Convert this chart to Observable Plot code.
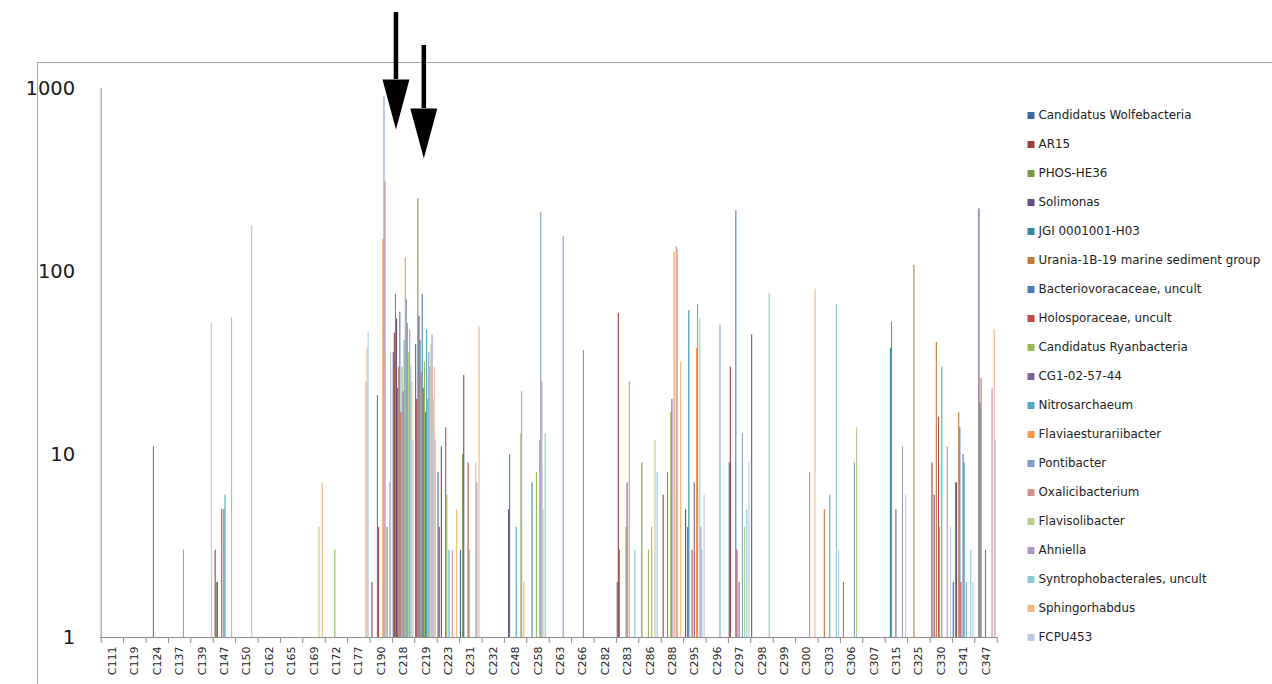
<!DOCTYPE html>
<html>
<head>
<meta charset="utf-8">
<script src="https://cdn.jsdelivr.net/npm/d3@7"></script>
<script src="https://cdn.jsdelivr.net/npm/@observablehq/plot@0.6"></script>
<style>
  body { margin: 0; background: #fff; }
  #wrap { position: relative; width: 1272px; height: 684px; overflow: hidden; font-family: "DejaVu Sans", sans-serif; }
  #border { position: absolute; left: 37px; top: 62px; width: 1260px; height: 640px; border-left: 1px solid #a6a6a6; border-top: 1px solid #a6a6a6; }
  #chart { position: absolute; left: 0; top: 0; }
  #legend { position: absolute; left: 1023px; top: 0; }
</style>
</head>
<body>
<div id="wrap"><div id="border"></div><div id="chart"></div><div id="legend"></div></div>
<script>
// ---- data ----
const categories = [
  "C111","C119","C124","C137","C139","C147","C150","C162","C165","C169",
  "C172","C177","C190","C218","C219","C223","C231","C232","C248","C258",
  "C263","C266","C282","C283","C286","C288","C295","C296","C297","C298",
  "C299","C300","C303","C306","C307","C315","C325","C330","C341","C347"
];
const seriesNames = [
  "Candidatus Wolfebacteria","AR15","PHOS-HE36","Solimonas","JGI 0001001-H03",
  "Urania-1B-19 marine sediment group","Bacteriovoracaceae, uncult","Holosporaceae, uncult",
  "Candidatus Ryanbacteria","CG1-02-57-44","Nitrosarchaeum","Flaviaesturariibacter",
  "Pontibacter","Oxalicibacterium","Flavisolibacter","Ahniella",
  "Syntrophobacterales, uncult","Sphingorhabdus","FCPU453"
];
const seriesColors = [
  "#3d6a9e","#9e3d3b","#7d9645","#634d80","#318ba6","#c27a3a",
  "#4a7ebb","#be4b48","#98b954","#7e62a1","#4bacc6","#f79646",
  "#7f9fca","#d68f8d","#b9cf8f","#a998c6","#8fcada","#f9b47f","#b7c8e3"
];
const yTicks = [1, 10, 100, 1000];

//                         C111..C169                      C172..C258                          C263..C298                      C299..C347
const wolfebacteria     = [0,0,0,0,0,0,0,0,0,0,           0,0,0,36,40,8,3,0,0,0,            0,0,0,2,0,0,0,0,9,45,           0,0,0,0,0,0,0,0,2,0];
const ar15              = [0,0,0,0,0,3,0,0,0,0,           0,0,2,46,20,4,0,0,0,0,            0,0,0,59,0,6,5,0,30,0,          0,0,0,0,0,0,0,9,0,0];
const phosHE36          = [0,0,0,0,0,2,0,0,0,0,           0,0,0,75,250,0,10,0,0,0,          0,0,0,3,9,0,0,0,0,0,            0,0,0,2,0,0,0,0,7,0];
const solimonas         = [0,0,0,0,0,2,0,0,0,0,           0,0,0,55,57,11,27,0,5,0,          0,0,0,0,0,0,4,0,0,0,            0,0,0,0,0,0,0,6,7,220];
const jgi               = [0,0,0,0,0,0,0,0,0,0,           0,0,0,23,42,0,0,0,10,7,           0,0,0,0,0,0,61,0,0,0,           0,0,0,0,0,38,0,0,0,19];
const urania            = [0,0,0,0,0,0,0,0,0,0,           0,0,0,30,28,0,0,0,0,0,            0,0,0,0,0,8,0,0,0,0,            0,0,5,0,0,53,108,41,17,26];
const bacteriovoracaceae= [0,0,11,0,0,0,0,0,0,0,          0,0,21,60,75,0,0,0,0,0,           0,0,0,0,0,0,0,0,215,0,          0,0,0,0,0,0,0,0,14,0];
const holosporaceae     = [0,0,0,0,0,5,0,0,0,0,           0,0,4,17,23,14,9,0,0,0,           0,0,0,0,0,0,3,0,3,0,            0,0,0,0,0,0,0,16,2,0];
const ryanbacteria      = [0,0,0,0,0,0,0,0,0,0,           3,0,0,30,32,6,3,0,0,8,            0,0,0,4,3,17,0,0,0,0,           0,0,0,0,0,0,0,4,0,0];
const cg1               = [0,0,0,0,0,5,0,0,0,0,           0,0,0,22,17,0,0,0,0,0,            0,0,0,7,0,20,7,0,2,0,           0,0,0,0,0,5,0,0,10,3];
const nitrosarchaeum    = [0,0,0,0,0,6,0,0,0,0,           0,0,0,42,48,3,0,0,4,0,            0,37,0,0,0,0,0,0,0,0,           0,0,6,0,0,0,0,30,9,0];
const flaviaesturariibacter=[0,0,0,0,0,0,0,0,0,0,         0,0,150,119,20,0,0,0,0,12,        0,0,0,25,4,128,38,0,0,0,        0,0,0,0,0,0,0,0,0,0];
const pontibacter       = [0,0,0,0,0,0,0,0,0,0,           0,0,900,70,36,0,0,0,0,210,        155,0,0,0,0,0,66,51,13,0,       0,8,0,9,0,0,0,0,2,0];
const oxalicibacterium  = [0,0,0,3,0,0,0,0,0,0,           0,0,310,52,30,3,0,0,0,25,         0,0,0,0,0,137,0,0,0,0,          0,0,0,0,0,0,0,0,0,0];
const flavisolibacter   = [0,0,0,0,0,0,178,0,0,4,         0,0,4,36,40,0,9,0,13,5,           0,0,0,0,12,132,55,0,4,0,        0,0,0,14,0,0,0,0,0,0];
const ahniella          = [0,0,0,0,0,0,0,0,0,0,           0,0,4,48,45,0,7,0,22,0,           0,0,0,0,0,0,4,0,0,0,            0,0,0,0,0,11,0,11,0,23];
const syntrophobacterales=[0,0,0,0,0,56,0,0,0,0,          0,25,0,30,20,0,0,0,0,13,          0,0,0,3,8,0,3,0,5,76,           0,0,66,0,0,0,0,0,3,0];
const sphingorhabdus    = [0,0,0,0,0,0,0,0,0,7,           0,38,7,25,30,5,50,0,2,0,          0,0,0,0,0,32,0,0,0,0,           0,80,0,0,0,0,0,0,0,48];
const fcpu453           = [0,0,0,0,52,0,0,0,0,0,          0,46,36,12,12,0,0,0,0,0,          0,0,0,0,0,0,6,0,9,0,            0,0,3,0,0,6,0,4,2,12];

const seriesValues = [
  wolfebacteria, ar15, phosHE36, solimonas, jgi, urania, bacteriovoracaceae, holosporaceae,
  ryanbacteria, cg1, nitrosarchaeum, flaviaesturariibacter, pontibacter, oxalicibacterium,
  flavisolibacter, ahniella, syntrophobacterales, sphingorhabdus, fcpu453
];

// annotation arrows (category, series they point at, top of shaft and base of head in data units)
const arrowCats = ["C218", "C219"];
const arrowSeries = ["PHOS-HE36", "Holosporaceae, uncult"];
const arrowTop = [2600, 1718];
const arrowBase = [1120, 777];

// ---- build ----
const table = [];
seriesValues.forEach((vals, s) => vals.forEach((v, c) => {
  if (v > 0) table.push({cat: categories[c], series: seriesNames[s], v});
}));
const arrows = arrowCats.map((c, i) => ({cat: c, series: arrowSeries[i], top: arrowTop[i], base: arrowBase[i]}));
const arrowHead = {draw(ctx) { ctx.moveTo(-13.5, 0); ctx.lineTo(13.5, 0); ctx.lineTo(0, 50); ctx.closePath(); }};
const firstCat = categories[0];

const W = 1010, H = 684, ML = 100.7, MR = W - 996.7;
const band = (W - ML - MR) / categories.length;
const axisGray = "#8c8c8c";

const chart = Plot.plot({
  width: W, height: H,
  marginLeft: ML, marginRight: MR, marginTop: 88, marginBottom: 47,
  style: {fontFamily: "DejaVu Sans, sans-serif", background: "transparent", overflow: "visible"},
  fx: {domain: categories, padding: 0, round: false, label: null},
  x: {type: "band", domain: seriesNames, paddingInner: 0, paddingOuter: 0.75, round: false, axis: null},
  y: {type: "log", domain: [1, 1000], label: null, axis: null},
  color: {domain: seriesNames, range: seriesColors},
  marks: [
    Plot.barY(table, {fx: "cat", x: "series", y1: 1, y2: "v", fill: "series", insetLeft: 0, insetRight: 0}),
    Plot.frame({anchor: "bottom", facetAnchor: "bottom", stroke: axisGray}),
    Plot.frame({anchor: "left", facetAnchor: "left", stroke: axisGray}),
    // y tick labels, placed in the first facet only
    Plot.text(yTicks, {fx: () => firstCat, y: d => d, text: d => String(d), frameAnchor: "left",
      textAnchor: "end", dx: -26, fontSize: 19.5, fill: "#1a1a1a"}),
    Plot.axisFx({anchor: "bottom", tickSize: 0, tickPadding: 9, tickRotate: -90, fontSize: 11, fill: "#262626", label: null}),
    Plot.axisFx({anchor: "bottom", tickSize: 6, tickFormat: () => "", dx: -band / 2, stroke: axisGray, label: null}),
    Plot.axisFx({anchor: "bottom", ticks: [categories[categories.length - 1]], tickSize: 6, tickFormat: () => "", dx: band / 2, stroke: axisGray, label: null}),
    Plot.ruleX(arrows, {fx: "cat", x: "series", y1: "top", y2: "base", stroke: "black", strokeWidth: 4.5}),
    Plot.dot(arrows, {fx: "cat", x: "series", y: "base", symbol: arrowHead, fill: "black", stroke: null})
  ]
});
document.getElementById("chart").appendChild(chart);

const legend = Plot.plot({
  width: 249, height: 684,
  marginLeft: 7.5, marginRight: 0, marginTop: 0, marginBottom: 0,
  style: {fontFamily: "DejaVu Sans, sans-serif", background: "transparent"},
  y: {type: "point", domain: seriesNames, range: [112, 639], padding: 0, axis: null},
  color: {domain: seriesNames, range: seriesColors},
  marks: [
    Plot.dot(seriesNames, {y: d => d, fill: d => d, symbol: "square", r: 3.95, frameAnchor: "left", stroke: null}),
    Plot.text(seriesNames, {y: d => d, text: d => d, frameAnchor: "left", textAnchor: "start", dx: 7.5, fontSize: 11.9, fill: "#222"})
  ]
});
document.getElementById("legend").appendChild(legend);
</script>
</body>
</html>
